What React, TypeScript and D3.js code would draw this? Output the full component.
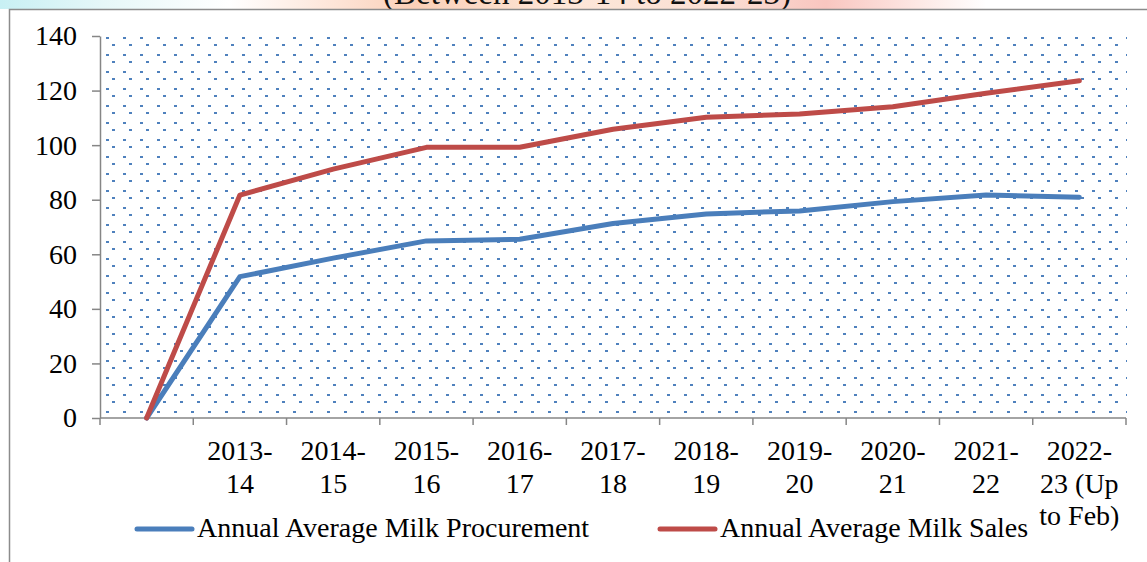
import { useEffect, useRef } from 'react';
import * as d3 from 'd3';

// categories (first one is an empty origin slot, as in the source sheet)
const categories = ['', '2013-14', '2014-15', '2015-16', '2016-17', '2017-18', '2018-19', '2019-20', '2020-21', '2021-22', '2022-23 (Up to Feb)'];
const categoryLines = [[], ['2013-', '14'], ['2014-', '15'], ['2015-', '16'], ['2016-', '17'], ['2017-', '18'], ['2018-', '19'], ['2019-', '20'], ['2020-', '21'], ['2021-', '22'], ['2022-', '23 (Up', 'to Feb)']];
const procurement = [0, 51.8, 58.6, 64.9, 65.5, 71.3, 74.8, 75.9, 79.3, 81.7, 80.9];
const sales = [0, 81.7, 91.2, 99.2, 99.2, 105.8, 110.2, 111.4, 114.1, 119.0, 123.6];
const yTicks = [0, 20, 40, 60, 80, 100, 120, 140];
const seriesNames = ['Annual Average Milk Procurement', 'Annual Average Milk Sales'];

const W = 1147;
const H = 562;
const FONT = '"Liberation Serif", "Times New Roman", serif';
const FS = 28;

export default function App() {
  const svgRef = useRef<SVGSVGElement>(null);

  useEffect(() => {
    if (!svgRef.current) return;
    const svg = d3.select(svgRef.current);
    svg.selectAll('*').remove();

    const plot = { left: 100, right: 1126, top: 36, bottom: 418 };

    const x = d3.scaleBand<string>().domain(categories).range([plot.left, plot.right]).padding(0);
    const cx = (i: number) => (x(categories[i]) || 0) + x.bandwidth() / 2;
    const y = d3.scaleLinear().domain([0, 140]).range([plot.bottom, plot.top]);

    // header strip (page background behind the chart frame)
    const defs = svg.append('defs');
    const grad = defs.append('linearGradient').attr('id', 'hdr').attr('x1', '0').attr('x2', '1');
    [
      [0, '#c8f0f4'],
      [0.09, '#e6f7f8'],
      [0.2, '#ffffff'],
      [0.3, '#fde2d4'],
      [0.36, '#fbd0b8'],
      [0.5, '#fde6d8'],
      [0.62, '#fbe0d4'],
      [0.72, '#f9c6c0'],
      [0.8, '#fde8e4'],
      [0.86, '#ffffff'],
      [1, '#ffffff']
    ].forEach(([o, c]) => grad.append('stop').attr('offset', o as number).attr('stop-color', c as string));

    svg.append('rect').attr('width', W).attr('height', 9).attr('fill', 'url(#hdr)');
    // title sits mostly above the visible page, only its lower part shows
    svg.append('text')
      .attr('x', 587)
      .attr('y', 4)
      .attr('text-anchor', 'middle')
      .attr('font-family', FONT)
      .attr('font-size', 33)
      .attr('fill', '#111')
      .text('(Between 2013-14 to 2022-23)');

    // chart area
    svg.append('rect').attr('x', 9).attr('y', 9).attr('width', W).attr('height', H).attr('fill', '#fff');
    svg.append('path')
      .attr('d', `M9.5,${H} V9.5 H${W}`)
      .attr('fill', 'none')
      .attr('stroke', '#8c8c8c')
      .attr('stroke-width', 1.5);

    // dotted plot-area fill
    const pat = defs.append('pattern')
      .attr('id', 'dots')
      .attr('patternUnits', 'userSpaceOnUse')
      .attr('x', 106)
      .attr('y', 37)
      .attr('width', 17)
      .attr('height', 17);
    pat.append('rect').attr('x', 0).attr('y', 0).attr('width', 3).attr('height', 2).attr('fill', '#4f81bd');
    pat.append('rect').attr('x', 6).attr('y', 7).attr('width', 3).attr('height', 2).attr('fill', '#4f81bd');
    svg.append('rect')
      .attr('x', plot.left)
      .attr('y', plot.top)
      .attr('width', plot.right + 1 - plot.left)
      .attr('height', plot.bottom - plot.top)
      .attr('fill', 'url(#dots)');

    // y axis
    const yAxis = svg.append('g')
      .attr('transform', `translate(${plot.left},0)`)
      .call(d3.axisLeft(y).tickValues(yTicks).tickSize(8).tickSizeOuter(0).tickPadding(15).tickFormat(d3.format('d')));
    yAxis.select('.domain').attr('stroke', '#868686').attr('stroke-width', 1.5);
    yAxis.selectAll('.tick line').attr('stroke', '#868686').attr('stroke-width', 1.5);
    yAxis.selectAll('.tick text').attr('font-family', FONT).attr('font-size', FS).attr('fill', '#000');

    // x axis: line + boundary ticks
    const xg = svg.append('g');
    xg.append('line')
      .attr('x1', plot.left).attr('x2', plot.right)
      .attr('y1', plot.bottom).attr('y2', plot.bottom)
      .attr('stroke', '#868686').attr('stroke-width', 1.5);
    const bounds = categories.map((c) => x(c) || 0).concat([plot.right]);
    xg.selectAll('.xt')
      .data(bounds)
      .enter()
      .append('line')
      .attr('x1', (d) => d).attr('x2', (d) => d)
      .attr('y1', plot.bottom).attr('y2', plot.bottom + 7)
      .attr('stroke', '#868686').attr('stroke-width', 1.5);

    categoryLines.forEach((lines, i) => {
      const t = xg.append('text')
        .attr('font-family', FONT)
        .attr('font-size', FS)
        .attr('text-anchor', 'middle')
        .attr('fill', '#000');
      lines.forEach((ln, j) => {
        t.append('tspan').attr('x', cx(i)).attr('y', 460 + j * 32.5).text(ln);
      });
    });

    // series lines
    const line = d3.line<number>()
      .x((_, i) => cx(i))
      .y((d) => y(d));

    const colors = ['#4a7ebb', '#be4b48'];
    [procurement, sales].forEach((vals, k) => {
      svg.append('path')
        .datum(vals)
        .attr('d', line)
        .attr('fill', 'none')
        .attr('stroke', colors[k])
        .attr('stroke-width', 5)
        .attr('stroke-linejoin', 'round')
        .attr('stroke-linecap', 'round');
    });

    // legend
    const legend = [
      { x1: 137, x2: 192, tx: 197 },
      { x1: 660, x2: 715, tx: 720 }
    ];
    legend.forEach((l, k) => {
      svg.append('line')
        .attr('x1', l.x1).attr('x2', l.x2)
        .attr('y1', 529).attr('y2', 529)
        .attr('stroke', colors[k])
        .attr('stroke-width', 5)
        .attr('stroke-linecap', 'round');
      svg.append('text')
        .attr('x', l.tx)
        .attr('y', 537)
        .attr('font-family', FONT)
        .attr('font-size', FS)
        .attr('fill', '#000')
        .text(seriesNames[k]);
    });
  }, []);

  return (
    <svg
      ref={svgRef}
      width={W}
      height={H}
      style={{ position: 'absolute', left: 0, top: 0, display: 'block', background: '#fff' }}
    />
  );
}
